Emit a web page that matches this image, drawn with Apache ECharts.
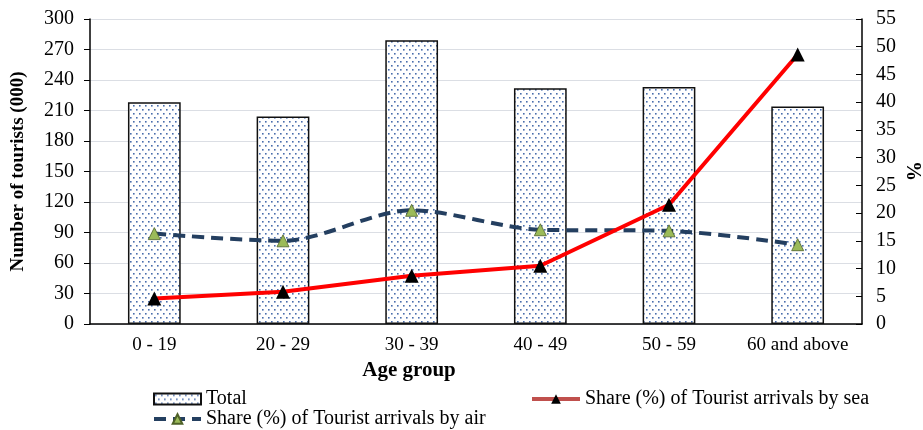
<!DOCTYPE html>
<html><head><meta charset="utf-8">
<script src="https://cdn.jsdelivr.net/npm/echarts@6/dist/echarts.min.js"></script>
<style>html,body{margin:0;padding:0;background:#fff}#c{width:923px;height:430px}</style>
</head><body><div id="c"></div>
<script>
var categories = ['0 - 19','20 - 29','30 - 39','40 - 49','50 - 59','60 and above'];
var totalValues = [218, 204, 279, 232, 233, 214];
var seaShare = [4.6, 5.8, 8.7, 10.5, 21.5, 48.6];
var airShare = [16.3, 15.0, 20.5, 17.0, 16.8, 14.3];
var leftTicks = {min:0, max:300, interval:30};
var rightTicks = {min:0, max:55, interval:5};

var pc = document.createElement('canvas');
pc.width = 6; pc.height = 8;
var g = pc.getContext('2d');
g.fillStyle = '#fff'; g.fillRect(0,0,6,8);
g.fillStyle = '#4a6ead';
g.fillRect(1,1,1.6,1.6);
g.fillRect(4,5,1.6,1.6);

var font = '"Liberation Serif", "Times New Roman", serif';
var legText = {fontFamily:font, fontSize:20, color:'#000'};
var chart = echarts.init(document.getElementById('c'));
chart.setOption({
  animation:false,
  textStyle:{fontFamily:font, color:'#000'},
  grid:{left:90, right:61, top:19, bottom:106, outerBoundsMode:'none', containLabel:false},
  graphic:[{type:'text', x:912, y:171, rotation:-Math.PI/2,
    style:{text:'%', font:'bold 20px ' + font, fill:'#000', align:'center', verticalAlign:'middle'}}],
  legend:[
    {data:[{name:'Total', icon:'rect'}], left:148, top:384, itemWidth:47, itemHeight:11,
     textStyle:legText},
    {data:[{name:'Share (%) of Tourist arrivals by sea', lineStyle:{color:'#c0504d', width:4}}], left:525, top:384, itemWidth:48, itemHeight:12,
     textStyle:legText},
    {data:[{name:'Share (%) of Tourist arrivals by air', lineStyle:{width:4}}], left:147, top:404, itemWidth:47, itemHeight:12,
     textStyle:legText}
  ],
  xAxis:{type:'category', data:categories,
    name:'Age group', nameLocation:'middle', nameGap:36,
    nameTextStyle:{fontFamily:font, fontSize:21, fontWeight:'bold', color:'#000', padding:[0,134,0,0]},
    axisLine:{lineStyle:{color:'#000', width:1.5}}, axisTick:{show:false},
    axisLabel:{fontFamily:font, fontSize:19, color:'#000', margin:12, interval:0}},
  yAxis:[
    {type:'value', min:leftTicks.min, max:leftTicks.max, interval:leftTicks.interval,
     name:'Number of tourists (000)', nameLocation:'middle', nameGap:62, nameRotate:90,
     nameTextStyle:{fontFamily:font, fontSize:19, fontWeight:'bold', color:'#000'},
     axisLine:{show:true, lineStyle:{color:'#000', width:1.5}},
     axisTick:{show:true, length:6, lineStyle:{color:'#000'}},
     axisLabel:{fontFamily:font, fontSize:20, color:'#000', margin:16}},
    {type:'value', min:rightTicks.min, max:rightTicks.max, interval:rightTicks.interval, position:'right',
     axisLine:{show:true, lineStyle:{color:'#000', width:1.5}},
     axisTick:{show:true, inside:true, length:6, lineStyle:{color:'#000'}},
     axisLabel:{fontFamily:font, fontSize:20, color:'#000', margin:14},
     splitLine:{show:false}}
  ],
  series:[
    {name:'Total', type:'bar', data:totalValues, barWidth:'41%',
     itemStyle:{color:{image:pc, repeat:'repeat'}, borderColor:'#111', borderWidth:1.5}},
    {name:'Share (%) of Tourist arrivals by sea', type:'line', yAxisIndex:1, data:seaShare,
     lineStyle:{color:'#ff0000', width:4}, itemStyle:{color:'#000'},
     symbol:'triangle', symbolSize:14, z:4},
    {name:'Share (%) of Tourist arrivals by air', type:'line', yAxisIndex:1, data:airShare, smooth:0.3,
     lineStyle:{color:'#243f60', width:4, type:[12,7]},
     itemStyle:{color:'#9bbb59', borderColor:'#4f6228', borderWidth:0.8},
     symbol:'triangle', symbolSize:12, z:3}
  ]
});
</script></body></html>
